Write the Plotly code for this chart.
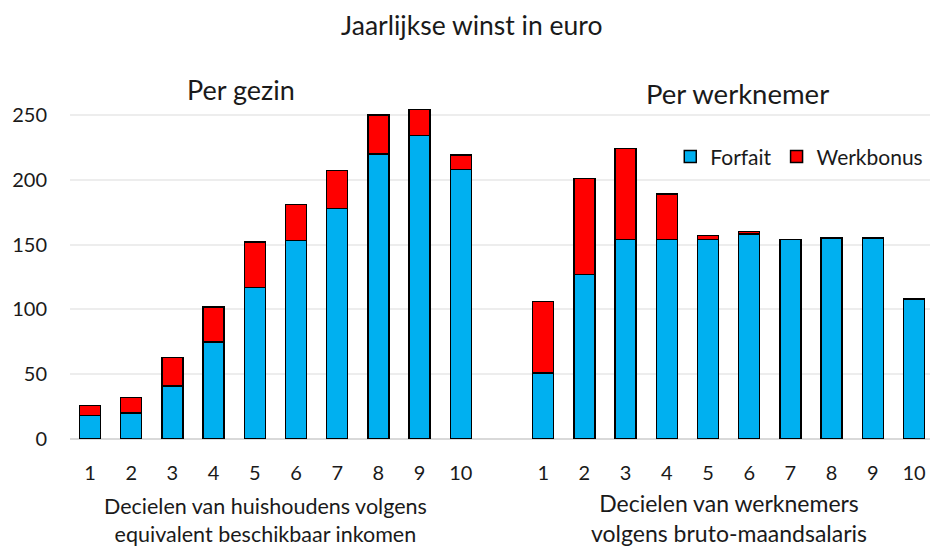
import plotly.graph_objects as go

# ---- data ----
deciles = ["1", "2", "3", "4", "5", "6", "7", "8", "9", "10"]
gezin_forfait = [18, 20, 41, 75, 117, 153, 178, 220, 234, 208]
gezin_werkbonus = [8, 12, 22, 27, 35, 28, 29, 30, 20, 11]
werknemer_forfait = [51, 127, 154, 154, 154, 158, 154, 155, 155, 108]
werknemer_werkbonus = [55, 74, 70, 35, 3, 2, 0, 0, 0, 0]
y_ticks = [0, 50, 100, 150, 200, 250]

title_text = "Jaarlijkse winst in euro"
group_titles = ["Per gezin", "Per werknemer"]
gezin_axis_title = "Decielen van huishoudens volgens<br>equivalent beschikbaar inkomen"
werknemer_axis_title = "Decielen van werknemers<br>volgens bruto-maandsalaris"

# ---- build positions: two groups with one empty slot in between ----
n = len(deciles)
x_gezin = list(range(n))
x_werknemer = [n + 1 + i for i in range(n)]
x_all = x_gezin + x_werknemer
forfait = gezin_forfait + werknemer_forfait
werkbonus = gezin_werkbonus + werknemer_werkbonus

FONT = "Lato, 'Open Sans', sans-serif"
TXT = "#1a1a1a"
BLUE = "#00B0F0"
RED = "#FF0000"

fig = go.Figure()
fig.add_trace(go.Bar(
    x=x_all, y=forfait, name="Forfait",
    marker=dict(color=BLUE, line=dict(color="black", width=1.5)),
))
fig.add_trace(go.Bar(
    x=x_all, y=werkbonus, name="Werkbonus",
    marker=dict(color=RED, line=dict(color="black", width=1.5)),
))

# the page has an 8px body margin; keep the figure inside the visible window
fig.update_layout(
    width=922, height=541,
    margin=dict(l=62, r=0, t=81, b=110, autoexpand=False),
    paper_bgcolor="white", plot_bgcolor="white",
    barmode="stack", bargap=0.49,
    font=dict(family=FONT, color=TXT, size=20),
    title=dict(text=title_text, x=0.503, xref="container", xanchor="center",
               y=0.9667, yref="container", yanchor="middle",
               font=dict(family=FONT, size=26.5, color=TXT)),
    legend=dict(orientation="h", x=0.998, xanchor="right", y=0.806, yanchor="middle",
                font=dict(family=FONT, size=21, color=TXT),
                bgcolor="rgba(0,0,0,0)", traceorder="normal"),
    showlegend=True,
)

fig.update_xaxes(
    range=[-0.4854, 20.388], tickmode="array", tickvals=x_all, ticktext=deciles + deciles,
    showgrid=False, zeroline=False, showline=False, ticks="", automargin=False,
    tickfont=dict(family=FONT, size=20, color=TXT), ticklabelstandoff=20,
)
fig.update_yaxes(
    range=[0, 270], tickmode="array", tickvals=y_ticks,
    showgrid=True, gridcolor="#EDEDED", gridwidth=1.5,
    zeroline=True, zerolinecolor="#D9D9D9", zerolinewidth=1.5,
    showline=False, ticks="", automargin=False,
    tickfont=dict(family=FONT, size=20, color=TXT), ticklabelstandoff=22,
)

fig.add_annotation(text=group_titles[0], xref="paper", yref="paper",
                   x=0.1994, y=1.0, xanchor="center", yanchor="middle",
                   showarrow=False, font=dict(family=FONT, size=27, color=TXT))
fig.add_annotation(text=group_titles[1], xref="paper", yref="paper",
                   x=0.776, y=0.986, xanchor="center", yanchor="middle",
                   showarrow=False, font=dict(family=FONT, size=27.5, color=TXT))

fig.add_annotation(text=gezin_axis_title, xref="paper", yref="paper",
                   x=0.2274, y=-0.2304, xanchor="center", yanchor="middle",
                   showarrow=False, font=dict(family=FONT, size=21.5, color=TXT))
fig.add_annotation(text=werknemer_axis_title, xref="paper", yref="paper",
                   x=0.766, y=-0.2247, xanchor="center", yanchor="middle",
                   showarrow=False, font=dict(family=FONT, size=23, color=TXT))

fig.write_html("out.html")
